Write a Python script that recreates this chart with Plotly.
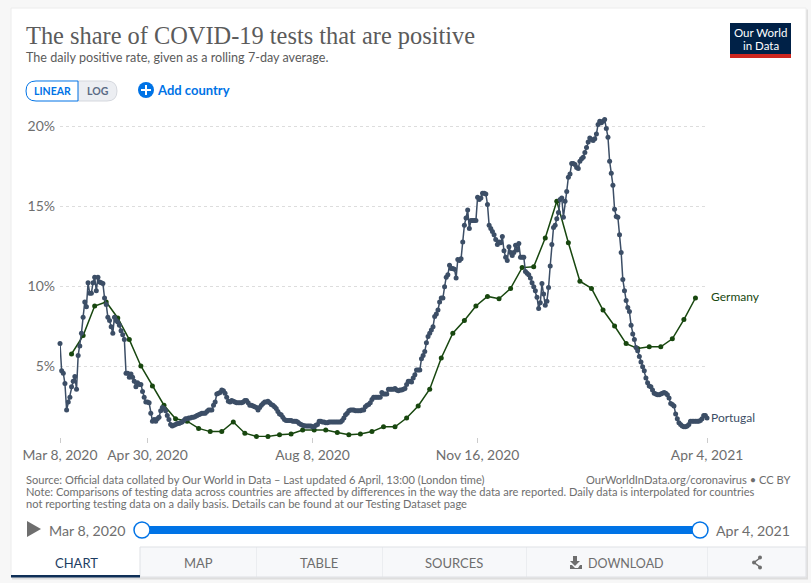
import pandas as pd
import plotly.graph_objects as go

# share of tests that are positive, one value per day
portugal_pct = [
    6.4, 4.7, 4.55, 3.9, 2.25, 2.75, 3.05, 3.7, 4.05, 4.35, 3.55, 5.65, 6.25, 7.05, 8.05, 9.0, 8.7, 10.2, 9.55, 9.55,
    10.2, 10.55, 9.7, 10.55, 10.25, 10.2, 10.15, 9.25, 8.85, 8.05, 7.85, 7.45, 7.05, 8.05, 7.85, 7.75, 7.55, 7.2, 6.95, 6.65,
    4.55, 4.55, 4.3, 4.5, 4.3, 4.05, 3.7, 3.95, 3.85, 3.85, 3.4, 3.05, 2.75, 2.75, 2.7, 2.05, 1.55, 1.65, 1.55, 1.7,
    1.8, 2.2, 2.4, 2.35, 2.2, 1.9, 1.65, 1.35, 1.25, 1.3, 1.35, 1.4, 1.4, 1.45, 1.5, 1.6, 1.7, 1.7, 1.75, 1.75,
    1.8, 1.8, 1.85, 1.9, 1.95, 2.0, 2.05, 2.05, 2.05, 2.15, 2.25, 2.25, 2.25, 2.55, 2.75, 3.25, 3.3, 3.35, 3.5, 3.45,
    3.3, 3.05, 2.8, 2.75, 2.85, 2.8, 2.75, 2.7, 2.7, 2.7, 2.7, 2.75, 2.85, 2.85, 2.7, 2.55, 2.55, 2.5, 2.45, 2.4,
    2.25, 2.4, 2.55, 2.65, 2.75, 2.75, 2.8, 2.7, 2.6, 2.55, 2.45, 2.35, 2.15, 2.0, 1.95, 1.8, 1.65, 1.6, 1.6, 1.6,
    1.6, 1.55, 1.55, 1.55, 1.5, 1.4, 1.35, 1.3, 1.27, 1.25, 1.25, 1.25, 1.25, 1.2, 1.2, 1.3, 1.35, 1.55, 1.55, 1.5,
    1.5, 1.45, 1.45, 1.5, 1.5, 1.5, 1.5, 1.5, 1.5, 1.5, 1.5, 1.6, 1.75, 1.95, 2.05, 2.2, 2.25, 2.25, 2.25, 2.2,
    2.2, 2.2, 2.2, 2.25, 2.25, 2.45, 2.55, 2.6, 2.7, 2.9, 3.05, 3.05, 3.05, 3.05, 3.05, 3.35, 3.25, 3.25, 3.25, 3.55,
    3.55, 3.55, 3.55, 3.6, 3.5, 3.45, 3.5, 3.5, 3.55, 3.6, 3.85, 4.05, 4.05, 4.0, 4.25, 4.45, 4.75, 4.75, 4.75, 5.45,
    5.65, 5.9, 6.45, 6.85, 7.05, 7.25, 7.45, 8.1, 8.25, 8.5, 9.0, 9.25, 9.25, 9.95, 10.55, 10.7, 11.3, 11.1, 11.1, 11.05,
    10.5, 11.65, 11.6, 11.7, 12.75, 13.8, 14.25, 14.75, 13.6, 14.1, 14.1, 14.1, 14.1, 15.55, 15.4, 15.5, 15.8, 15.8, 15.75, 15.1,
    13.8, 13.6, 13.4, 13.2, 12.9, 12.6, 12.75, 12.7, 13.1, 12.2, 11.8, 11.6, 12.45, 12.1, 11.9, 12.1, 12.55, 12.25, 12.65, 11.8,
    11.8, 11.8, 10.9, 10.8, 10.7, 10.5, 10.2, 9.95, 9.7, 9.3, 8.6, 8.95, 10.15, 9.5, 8.8, 9.05, 9.9, 11.25, 12.6, 13.65,
    13.8, 14.2, 14.6, 15.4, 15.5, 14.3, 15.3, 15.9, 16.8, 17.0, 17.65, 17.65, 17.6, 17.4, 17.35, 17.8, 17.95, 18.05, 18.35, 18.65,
    19.0, 19.25, 19.15, 19.1, 19.2, 19.5, 20.1, 20.3, 20.2, 20.3, 20.4, 19.85, 19.3, 17.8, 17.05, 16.3, 14.8, 14.35, 14.3, 13.2,
    12.1, 10.4, 9.7, 9.1, 8.65, 8.4, 7.55, 7.0, 6.65, 6.15, 5.95, 5.6, 5.25, 4.95, 4.7, 4.25, 3.95, 3.75, 3.7, 3.5,
    3.3, 3.25, 3.2, 3.2, 3.25, 3.3, 3.35, 3.3, 3.2, 3.0, 2.65, 2.6, 2.5, 2.0, 1.7, 1.45, 1.35, 1.25, 1.2, 1.2,
    1.25, 1.35, 1.55, 1.55, 1.55, 1.55, 1.55, 1.55, 1.6, 1.7, 1.9, 1.9, 1.75,
]
# germany reports weekly
germany_pct = [
    5.75, 6.9, 8.75, 9.0, 8.0, 6.65, 5.0, 3.75, 2.55, 1.7, 1.55, 1.1, 0.9, 0.9, 1.5, 0.8, 0.6, 0.6, 0.7, 0.75,
    1.0, 1.0, 1.0, 0.85, 0.7, 0.75, 0.9, 1.2, 1.2, 1.75, 2.5, 3.55, 5.5, 7.05, 7.85, 8.75, 9.35, 9.2, 9.85, 11.15,
    11.2, 13.0, 15.3, 12.7, 10.3, 9.85, 8.5, 7.5, 6.4, 6.1, 6.2, 6.2, 6.7, 7.9, 9.25,
]
portugal_dates = pd.date_range("2020-03-08", periods=len(portugal_pct), freq="D")
germany_dates = pd.date_range("2020-03-15", periods=len(germany_pct), freq="7D")

x_ticks = ["2020-03-08", "2020-04-30", "2020-08-08", "2020-11-16", "2021-04-04"]
x_labels = ["Mar 8, 2020", "Apr 30, 2020", "Aug 8, 2020", "Nov 16, 2020", "Apr 4, 2021"]
y_ticks = [5, 10, 15, 20]
y_labels = ["5%", "10%", "15%", "20%"]

FONT = "Lato"
GREY = "#6e6e6e"
BLUE = "#0073e6"
PORTUGAL = "#3c4e66"
GERMANY = "#18470f"

# plot area in page pixels, everything around it is placed in pixels too
LEFT, RIGHT, TOP, BOTTOM = 60, 707, 110, 437


def px(x):
    return (x - LEFT) / (RIGHT - LEFT)


def py(y):
    return (BOTTOM - y) / (BOTTOM - TOP)


def box(x0, y0, x1, y1, fill, line=None, width=1, kind="rect"):
    return dict(type=kind, xref="paper", yref="paper", x0=px(x0), x1=px(x1), y0=py(y0), y1=py(y1),
                fillcolor=fill, line=dict(color=line or fill, width=width if line else 0), layer="below")


def path(points, fill, line=None, width=0, close=True):
    d = "M " + " L ".join(f"{px(a):.5f},{py(b):.5f}" for a, b in points) + (" Z" if close else "")
    return dict(type="path", xref="paper", yref="paper", path=d, fillcolor=fill if close else "rgba(0,0,0,0)",
                line=dict(color=line or fill, width=width), layer="above")


def half_pill(x0, x1, y0, y1, r, fill, line, rounded_left):
    # rectangle with the two corners on one side rounded, for the linear/log toggle
    p = lambda a, b: f"{px(a):.5f},{py(b):.5f}"
    if rounded_left:
        d = (f"M {p(x1, y0)} L {p(x0 + r, y0)} Q {p(x0, y0)} {p(x0, y0 + r)} L {p(x0, y1 - r)} "
             f"Q {p(x0, y1)} {p(x0 + r, y1)} L {p(x1, y1)} Z")
    else:
        d = (f"M {p(x0, y0)} L {p(x1 - r, y0)} Q {p(x1, y0)} {p(x1, y0 + r)} L {p(x1, y1 - r)} "
             f"Q {p(x1, y1)} {p(x1 - r, y1)} L {p(x0, y1)} Z")
    return dict(type="path", xref="paper", yref="paper", path=d, fillcolor=fill,
                line=dict(color=line, width=1), layer="below")


def label(x, y, text, size=12, color=GREY, anchor="left", family=FONT, bold=False):
    if bold:
        text = f"<b>{text}</b>"
    # annotations carry a small padding, take it back so text sits on x
    shift = {"left": -2, "right": 2}.get(anchor, 0)
    return dict(xref="paper", yref="paper", x=px(x), y=py(y), text=text, showarrow=False, xanchor=anchor,
                yanchor="middle", align=anchor, font=dict(size=size, color=color, family=family),
                xshift=shift, yshift=0)


fig = go.Figure()
fig.add_trace(go.Scatter(x=germany_dates, y=germany_pct, name="Germany", mode="lines+markers",
                         line=dict(color=GERMANY, width=1.5), marker=dict(color=GERMANY, size=5)))
fig.add_trace(go.Scatter(x=portugal_dates, y=portugal_pct, name="Portugal", mode="lines+markers",
                         line=dict(color=PORTUGAL, width=1.5), marker=dict(color=PORTUGAL, size=5)))

shapes = [
    box(12, 9.5, 808, 579.5, "#dedede"),
    box(11, 8, 806, 577, "#ffffff", "#ececec"),
    # logo
    box(730, 23, 791, 54, "#002147"),
    box(730, 54, 791, 58, "#ce261e"),
    # linear / log toggle
    half_pill(78, 117, 81, 101, 10, "#eceef2", "#d5d8de", False),
    half_pill(26, 78, 81, 101, 10, "#ffffff", BLUE, True),
    box(138, 82, 154, 98, BLUE, kind="circle"),
    box(141, 89, 151, 91, "#ffffff"),
    box(145, 85, 147, 95, "#ffffff"),
    # timeline
    path([(27, 521), (41, 529), (27, 537)], "#6e6e6e"),
    box(142, 526, 700, 534, BLUE),
    # tabs
    box(140, 547, 806, 577, "#f7f8fa", "#dfe1e5"),
    box(256, 547, 256.5, 577, "#dfe1e5"),
    box(382, 547, 382.5, 577, "#dfe1e5"),
    box(526, 547, 526.5, 577, "#dfe1e5"),
    box(707, 547, 707.5, 577, "#dfe1e5"),
]
shapes += [
    dict(box(11, 575, 140, 577.5, "#0f2f57"), layer="above"),
    # slider handles
    dict(box(134, 522, 150, 538, "#ffffff", BLUE, 1.5, "circle"), layer="above"),
    dict(box(692, 522, 708, 538, "#ffffff", BLUE, 1.5, "circle"), layer="above"),
    # download icon
    path([(573, 556), (577, 556), (577, 561), (580, 561), (575, 566), (570, 561), (573, 561)], "#6e6e6e"),
    path([(570, 565), (572, 565), (575, 568), (578, 568), (580, 565), (582, 565), (582, 569), (570, 569)], "#6e6e6e"),
    # share icon
    path([(760, 558), (754, 562.5), (760, 567)], "#6e6e6e", "#6e6e6e", 1.5, close=False),
    dict(box(758, 555.5, 762, 559.5, "#6e6e6e", kind="circle"), layer="above"),
    dict(box(752, 560.5, 756, 564.5, "#6e6e6e", kind="circle"), layer="above"),
    dict(box(758, 565.5, 762, 569.5, "#6e6e6e", kind="circle"), layer="above"),
]

notes = [
    label(26, 35, "The share of COVID-19 tests that are positive", 24.4, "#5b5b5b", family="Liberation Serif"),
    label(26, 57, "The daily positive rate, given as a rolling 7-day average.", 12.6, "#5b5b5b"),
    label(52, 91, "LINEAR", 10.5, BLUE, "center", bold=True),
    label(98, 91, "LOG", 10.5, "#5b6b85", "center", bold=True),
    label(157, 90, "Add country", 13, BLUE, bold=True),
    label(760.5, 32, "Our World", 11.5, "#ffffff", "center"),
    label(760.5, 46, "in Data", 11.5, "#ffffff", "center"),
    label(711, 296.5, "Germany", 12, GERMANY),
    label(711, 417, "Portugal", 12, PORTUGAL),
    label(26, 479.5, "Source: Official data collated by Our World in Data – Last updated 6 April, 13:00 (London time)", 11.1, GREY),
    label(790, 479.5, "OurWorldInData.org/coronavirus • CC BY", 11.1, GREY, "right"),
    label(26, 491.5, "Note: Comparisons of testing data across countries are affected by differences in the way the data are reported. Daily data is interpolated for countries", 11.1, GREY),
    label(26, 503.5, "not reporting testing data on a daily basis. Details can be found at our Testing Dataset page", 11.1, GREY),
    label(49, 530, "Mar 8, 2020", 14.2, GREY),
    label(716, 530, "Apr 4, 2021", 14.2, GREY),
    label(76, 563, "CHART", 13, "#1d3d63", "center"),
    label(198, 563, "MAP", 13, GREY, "center"),
    label(319, 563, "TABLE", 13, GREY, "center"),
    label(454, 563, "SOURCES", 13, GREY, "center"),
    label(588, 563, "DOWNLOAD", 12.5, GREY),
]

fig.update_layout(
    width=811, height=583, autosize=False, showlegend=False,
    margin=dict(l=LEFT, r=811 - RIGHT, t=TOP, b=583 - BOTTOM),
    paper_bgcolor="#f7f7f7", plot_bgcolor="rgba(0,0,0,0)",
    font=dict(family=FONT, color=GREY),
    shapes=shapes, annotations=notes,
    xaxis=dict(range=["2020-03-08", "2021-04-04"], tickvals=x_ticks, ticktext=x_labels, ticks="outside",
               ticklen=5, tickcolor="#cccccc", showgrid=False, zeroline=False, showline=False,
               tickfont=dict(size=13.9, color=GREY, family=FONT)),
    yaxis=dict(range=[0.5625, 21], tickvals=y_ticks, ticktext=y_labels, showline=False, zeroline=False,
               gridcolor="#dddddd", griddash="3px,3px", gridwidth=1, ticks="", ticklen=0, ticklabelstandoff=4,
               tickfont=dict(size=14, color=GREY, family=FONT)),
)
for trace in fig.data:
    trace.cliponaxis = False

# the page has a default body margin, the card needs to start at the window corner
fig.write_html("out.html", config=dict(displayModeBar=False),
               post_script="document.body.style.margin='0';document.body.style.overflow='hidden';")
